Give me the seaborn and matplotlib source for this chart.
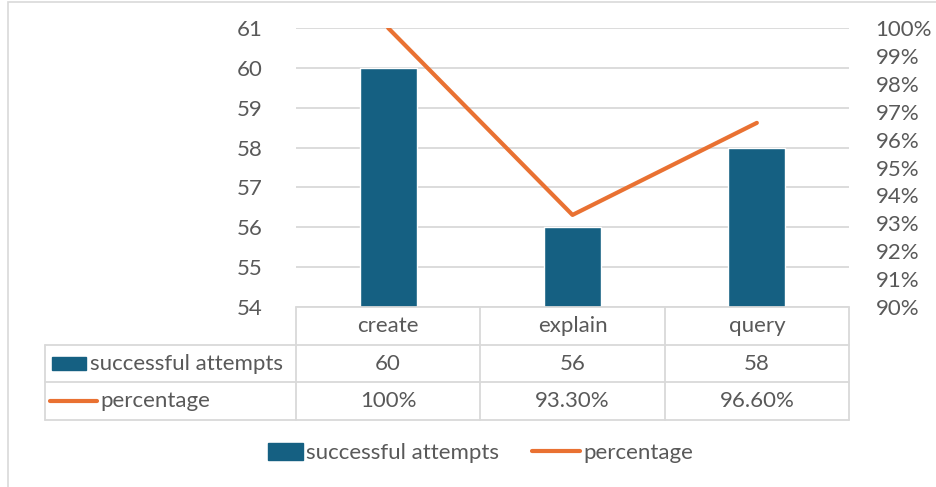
import seaborn as sns
import matplotlib.pyplot as plt
import pandas as pd
from matplotlib.patches import Rectangle, Patch
from matplotlib.lines import Line2D
from matplotlib.ticker import PercentFormatter
from matplotlib.legend_handler import HandlerPatch

# chart data
categories = ["create", "explain", "query"]
attempts = [60, 56, 58]
percentage = [1.00, 0.933, 0.966]
attempts_text = ["60", "56", "58"]
percentage_text = ["100%", "93.30%", "96.60%"]
series_names = ["successful attempts", "percentage"]

bar_color = "#156082"
line_color = "#E97132"
grid_color = "#D9D9D9"
text_color = "#595959"
fs = 16

df = pd.DataFrame({"category": categories, "attempts": attempts, "percentage": percentage})

sns.set_style("white")
plt.rcParams["font.family"] = ["Lato", "DejaVu Sans"]
plt.rcParams["font.size"] = fs

W, H = 936, 487
fig = plt.figure(figsize=(W / 100, H / 100), dpi=100)

def box(x0, y0, x1, y1):
    # pixel box -> figure fraction rect
    return [x0 / W, 1 - y1 / H, (x1 - x0) / W, (y1 - y0) / H]

# outer chart frame (partly cropped in the reference)
fig.patches.append(Rectangle((8 / W, -0.2), 1.2, 1.2 - 2 / H, transform=fig.transFigure,
                             fill=False, edgecolor=grid_color, lw=1.2))

# main plot area
ax = fig.add_axes(box(296, 28, 849, 307))
sns.barplot(data=df, x="category", y="attempts", color=bar_color, width=0.31,
            saturation=1, ax=ax)
ax.set_ylim(54, 61)
ax.set_yticks(range(54, 62))
ax.set_xlim(-0.5, len(categories) - 0.5)
ax.yaxis.grid(True, color=grid_color, lw=1.3)
ax.set_axisbelow(True)
ax.set_xlabel("")
ax.set_ylabel("")
ax.set_xticks([])
ax.tick_params(axis="y", length=0, pad=24, labelcolor=text_color, labelsize=fs)
for s in ax.spines.values():
    s.set_visible(False)

ax2 = ax.twinx()
sns.lineplot(data=df, x="category", y="percentage", color=line_color, lw=3,
             sort=False, ax=ax2)
ax2.set_ylim(0.90, 1.00)
ax2.set_yticks([0.90 + i * 0.01 for i in range(11)])
ax2.yaxis.set_major_formatter(PercentFormatter(1.0, decimals=0))
ax2.set_ylabel("")
ax2.tick_params(axis="y", length=0, pad=19, labelcolor=text_color, labelsize=fs)
for s in ax2.spines.values():
    s.set_visible(False)

# data table below the plot
cat_px = (849 - 296) / len(categories)
left_w = (296 - 45) / cat_px
tab = fig.add_axes(box(45, 307, 849, 420))
x_left = -0.5 - left_w
x_right = len(categories) - 0.5
tab.set_xlim(x_left, x_right)
tab.set_ylim(3, 0)
tab.axis("off")

lk = dict(color=grid_color, lw=1.3, clip_on=False)
tab.plot([-0.5, x_right], [0, 0], **lk)
for r in (1, 2, 3):
    tab.plot([x_left, x_right], [r, r], **lk)
for i in range(len(categories) + 1):
    tab.plot([i - 0.5, i - 0.5], [0, 3], **lk)
tab.plot([x_left, x_left], [1, 3], **lk)

for i, cat in enumerate(categories):
    tab.text(i, 0.5, cat, ha="center", va="center", color=text_color, fontsize=fs)
    tab.text(i, 1.5, attempts_text[i], ha="center", va="center", color=text_color, fontsize=fs)
    tab.text(i, 2.5, percentage_text[i], ha="center", va="center", color=text_color, fontsize=fs)

# row headers with legend keys
tab.add_patch(Rectangle((x_left + 7 / cat_px, 1.33), 34 / cat_px, 0.34, color=bar_color))
tab.text(x_left + 45 / cat_px, 1.5, series_names[0], ha="left", va="center",
         color=text_color, fontsize=fs)
tab.plot([x_left + 5 / cat_px, x_left + 52 / cat_px], [2.5, 2.5], color=line_color,
         lw=3, solid_capstyle="round")
tab.text(x_left + 55 / cat_px, 2.5, series_names[1], ha="left", va="center",
         color=text_color, fontsize=fs)


def narrow_box(legend, orig_handle, xdescent, ydescent, width, height, fontsize):
    w = width * 34 / 47
    return Rectangle((-xdescent + width - w, -ydescent - 0.05 * height), w, height * 1.1)


# bottom legend
handles = [Patch(color=bar_color, label=series_names[0]),
           Line2D([], [], color=line_color, lw=3, label=series_names[1])]
fig.legend(handles=handles, loc="center", bbox_to_anchor=(474 / W, 1 - 453 / H),
           ncol=2, frameon=False, handlelength=47 / 22, handletextpad=0.15,
           columnspacing=1.5, labelcolor=text_color, fontsize=fs,
           handler_map={Patch: HandlerPatch(patch_func=narrow_box)})

fig.savefig("out.png", dpi=100)
